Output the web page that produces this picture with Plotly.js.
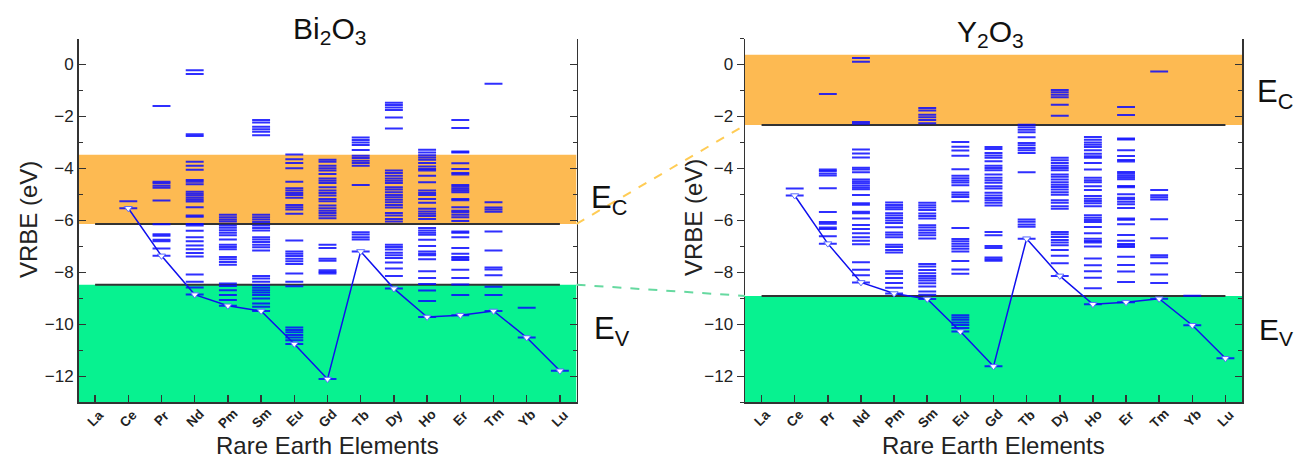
<!DOCTYPE html>
<html>
<head>
<meta charset="utf-8">
<script src="https://cdn.plot.ly/plotly-3.0.1.min.js"></script>
<style>html,body{margin:0;padding:0;background:#fff;}#chart{width:1294px;height:458px;}</style>
</head>
<body>
<div id="chart"></div>
<script>
// ---------------- DATA ----------------
const elements = ['La','Ce','Pr','Nd','Pm','Sm','Eu','Gd','Tb','Dy','Ho','Er','Tm','Yb','Lu'];

// 4f ground-state energies (VRBE, eV) of the trivalent lanthanides
const groundBi2O3 = [null, -5.53, -7.36, -8.85, -9.28, -9.48, -10.75, -12.10, -7.19, -8.62, -9.71, -9.64, -9.48, -10.50, -11.78];
const groundY2O3  = [null, -5.04, -6.89, -8.38, -8.81, -9.02, -10.27, -11.61, -6.70, -8.13, -9.22, -9.14, -9.01, -10.03, -11.30];

// excited 4f levels, energy above the ground state (eV)
const levelsLa = [];
const levelsCe = [0.27];
const levelsPr = [0.28, 0.56, 0.62, 0.77, 0.83, 1.22, 2.13, 2.62, 2.70, 2.79, 2.85, 5.76];
const levelsNd = [0.27, 0.49, 0.77, 1.47, 1.60, 1.74, 1.89, 2.05, 2.21, 2.46, 2.66, 2.72, 2.99, 3.04, 3.36, 3.58, 3.65, 3.73, 3.81, 3.88, 3.96, 4.24, 4.34, 4.41, 4.80, 4.96, 5.11, 6.10, 6.17, 8.49, 8.63];
const levelsPm = [0.22, 0.41, 0.60, 0.76, 0.86, 1.58, 1.68, 1.79, 1.88, 2.17, 2.26, 2.35, 2.55, 2.71, 2.81, 2.91, 3.00, 3.09, 3.24, 3.32, 3.41, 3.50];
const levelsSm = [0.16, 0.29, 0.48, 0.61, 0.71, 0.80, 0.89, 0.99, 1.12, 1.25, 1.35, 2.33, 2.45, 2.55, 2.65, 2.75, 2.84, 3.10, 3.19, 3.29, 3.42, 3.52, 3.61, 3.70, 6.76, 6.89, 6.99, 7.09, 7.25, 7.35];
const levelsEu = [0.14, 0.25, 0.35, 0.45, 0.54, 0.63, 2.22, 2.39, 2.71, 3.08, 3.18, 3.28, 3.38, 3.47, 3.56, 3.98, 5.01, 5.17, 5.26, 5.35, 5.63, 5.73, 5.81, 5.90, 5.99, 6.24, 6.76, 6.96, 7.11, 7.29];
const levelsGd = [4.06, 4.12, 4.19, 4.55, 4.63, 5.04, 5.17, 6.19, 6.29, 6.39, 6.48, 6.57, 6.68, 6.84, 6.93, 7.06, 7.16, 7.25, 7.38, 7.54, 7.63, 7.72, 7.89, 8.02, 8.11, 8.21, 8.36, 8.44];
const levelsTb = [0.46, 0.55, 0.65, 0.74, 2.56, 3.30, 3.40, 3.49, 3.59, 3.68, 3.90, 4.09, 4.19, 4.29, 4.38];
const levelsDy = [0.49, 0.77, 1.00, 1.18, 1.28, 1.38, 1.50, 1.60, 1.69, 2.58, 2.68, 2.81, 2.91, 3.12, 3.22, 3.32, 3.42, 3.51, 3.60, 3.71, 3.81, 3.90, 4.06, 4.15, 4.24, 4.34, 4.45, 4.54, 6.16, 6.58, 6.87, 6.97, 7.06, 7.15];
const levelsHo = [0.61, 1.02, 1.27, 1.50, 1.76, 2.22, 2.37, 2.43, 2.52, 2.73, 2.97, 3.16, 3.24, 3.33, 3.42, 3.77, 3.88, 3.97, 4.06, 4.16, 4.39, 4.54, 4.69, 4.77, 4.86, 5.18, 5.43, 5.63, 5.69, 5.79, 5.92, 6.05, 6.13, 6.22, 6.33, 6.43];
const levelsEr = [0.77, 1.18, 1.43, 1.75, 2.12, 2.18, 2.24, 2.36, 2.58, 3.00, 3.17, 3.22, 3.62, 3.77, 3.86, 3.96, 4.02, 4.15, 4.42, 4.47, 4.73, 4.79, 4.86, 4.94, 5.01, 5.41, 5.47, 5.62, 5.84, 6.26, 6.29, 7.20, 7.51];
const levelsTm = [0.61, 0.93, 1.37, 1.60, 1.67, 2.33, 3.06, 3.82, 3.90, 3.98, 4.18, 8.74];
const levelsYb = [1.14];
const levelsLu = [];
const excitedLevels = [levelsLa, levelsCe, levelsPr, levelsNd, levelsPm, levelsSm, levelsEu, levelsGd, levelsTb, levelsDy, levelsHo, levelsEr, levelsTm, levelsYb, levelsLu];

// band edges (VRBE, eV)
const bandBi2O3 = {cbTop: -3.47, ec: -6.13, ev: -8.47};
const bandY2O3  = {cbTop: 0.38, ec: -2.33, ev: -8.90};

const yTickVals = [0, -2, -4, -6, -8, -10, -12];
const yMinorVals = [1, -1, -3, -5, -7, -9, -11, -13];
// ---------------------------------------------------------------

const xIdx = elements.map((e, i) => i + 1);
const half = 0.27;

function levelTrace(ground, xa, ya) {
  const xs = [], ys = [];
  ground.forEach((g, i) => {
    if (g === null) return;
    const all = [0].concat(excitedLevels[i]);
    all.forEach(off => {
      xs.push(xIdx[i] - half, xIdx[i] + half, null);
      ys.push(g + off, g + off, null);
    });
  });
  return {x: xs, y: ys, xaxis: xa, yaxis: ya, mode: 'lines', type: 'scatter',
          line: {color: 'rgba(10,10,255,0.85)', width: 2}, hoverinfo: 'skip', showlegend: false};
}
function groundTrace(ground, xa, ya) {
  const xs = [], ys = [];
  ground.forEach((g, i) => { if (g !== null) { xs.push(xIdx[i]); ys.push(g); } });
  return {x: xs, y: ys, xaxis: xa, yaxis: ya, mode: 'lines+markers', type: 'scatter',
          line: {color: '#1010ee', width: 1.5},
          marker: {symbol: 'triangle-down', size: 7, color: '#ffffff', line: {color: '#5a6cff', width: 1}},
          showlegend: false};
}

const data = [
  levelTrace(groundBi2O3, 'x', 'y'), groundTrace(groundBi2O3, 'x', 'y'),
  levelTrace(groundY2O3, 'x2', 'y2'), groundTrace(groundY2O3, 'x2', 'y2')
];

const font = 'Arial, "Liberation Sans", sans-serif';
const yDom = [0.1212, 0.9159];
function xAxis(dom, anchor) {
  return {domain: dom, anchor: anchor, range: [0.5, 15.5], tickmode: 'array', tickvals: xIdx, ticktext: elements,
          showticklabels: false,
          ticks: 'inside', ticklen: 7, tickwidth: 1.5, tickcolor: '#333',
          showline: true, linecolor: '#333', linewidth: 1.5, showgrid: false, zeroline: false};
}
function yAxis(anchor, tickDir) {
  return {domain: yDom, anchor: anchor, range: [-13, 1], tickmode: 'array', tickvals: yTickVals,
          ticks: tickDir, ticklen: 7, tickwidth: 1.5, tickcolor: '#333',
          minor: {tickvals: yMinorVals, ticks: tickDir, ticklen: 4, tickwidth: 1.5, tickcolor: '#333'},
          tickfont: {family: font, size: 17, color: '#222'},
          showline: true, linecolor: '#333', linewidth: 1.5, showgrid: false, zeroline: false};
}
function yMirror(over, anchor) {
  return {domain: yDom, overlaying: over, anchor: anchor, side: 'right', range: [-13, 1], tickmode: 'array', tickvals: yTickVals,
          ticks: 'inside', ticklen: 7, tickwidth: 1.5, tickcolor: '#333', showticklabels: false,
          minor: {tickvals: yMinorVals, ticks: 'inside', ticklen: 4, tickwidth: 1.5, tickcolor: '#333'},
          showline: true, linecolor: '#333', linewidth: 1.5, showgrid: false, zeroline: false};
}

const orange = '#FDBA52', green = '#07F290';
function bandShapes(b, xr, yr) {
  return [
    {type: 'rect', xref: xr, yref: yr, x0: 0.5, x1: 15.5, y0: b.ec, y1: b.cbTop, fillcolor: orange, line: {width: 0}, layer: 'below'},
    {type: 'rect', xref: xr, yref: yr, x0: 0.5, x1: 15.5, y0: -13, y1: b.ev, fillcolor: green, line: {width: 0}, layer: 'below'},
    {type: 'line', xref: xr, yref: yr, x0: 1, x1: 15, y0: b.ec, y1: b.ec, line: {color: '#333', width: 2}, layer: 'below'},
    {type: 'line', xref: xr, yref: yr, x0: 1, x1: 15, y0: b.ev, y1: b.ev, line: {color: '#333', width: 2}, layer: 'below'}
  ];
}
const xDomL = [78.5/1294, 576.5/1294], xDomR = [745/1294, 1242/1294];
const shapes = bandShapes(bandBi2O3, 'x', 'y').concat(bandShapes(bandY2O3, 'x2', 'y2')).concat([
  {type: 'line', xref: 'paper', yref: 'y', x0: xDomL[1], x1: xDomR[0], y0: bandBi2O3.ec, y1: bandY2O3.ec,
   line: {color: '#FFCC55', width: 2, dash: 'dash'}},
  {type: 'line', xref: 'paper', yref: 'y', x0: xDomL[1], x1: xDomR[0], y0: bandBi2O3.ev, y1: bandY2O3.ev,
   line: {color: '#66D9A0', width: 2, dash: 'dash'}}
]);

function lab(text, x, y, size) {
  return {text: text, xref: 'paper', yref: 'paper', x: x, y: y, xanchor: 'left', yanchor: 'middle',
          showarrow: false, font: {family: font, size: size, color: '#111'}};
}
function ytitle(x, y) {
  return {text: 'VRBE (eV)', xref: 'paper', yref: 'paper', x: x, y: y, xanchor: 'center', yanchor: 'middle',
          textangle: -90, showarrow: false, font: {family: font, size: 24, color: '#222'}};
}
function xtitle(xr) {
  return {text: 'Rare Earth Elements', xref: xr + ' domain', yref: 'paper', x: 0.5, y: (458-445)/458,
          xanchor: 'center', yanchor: 'middle', showarrow: false, font: {family: font, size: 24, color: '#222'}};
}
function tickLabels(xr) {
  return elements.map((e, i) => ({text: '<b>' + e + '</b>', xref: xr, yref: 'paper', x: xIdx[i],
          y: (458-418)/458, xanchor: 'center', yanchor: 'middle', textangle: -45, showarrow: false,
          font: {family: font, size: 13.5, color: '#222'}}));
}
const annotations = [
  {text: 'Bi<sub>2</sub>O<sub>3</sub>', xref: 'paper', yref: 'paper', x: 330/1294, y: (458-31)/458, xanchor: 'center', yanchor: 'middle', showarrow: false, font: {family: font, size: 30, color: '#111'}},
  {text: 'Y<sub>2</sub>O<sub>3</sub>', xref: 'paper', yref: 'paper', x: 990/1294, y: (458-34)/458, xanchor: 'center', yanchor: 'middle', showarrow: false, font: {family: font, size: 30, color: '#111'}},
  lab('E<sub>C</sub>', 589/1294, (458-200)/458, 31),
  lab('E<sub>V</sub>', 592/1294, (458-331)/458, 31),
  lab('E<sub>C</sub>', 1255/1294, (458-94)/458, 31),
  lab('E<sub>V</sub>', 1257/1294, (458-331)/458, 30),
  ytitle(28/1294, (458-220)/458),
  ytitle(693/1294, (458-218)/458),
  xtitle('x'), xtitle('x2')
].concat(tickLabels('x'), tickLabels('x2'));

const layout = {
  width: 1294, height: 458, margin: {l: 0, r: 0, t: 0, b: 0},
  paper_bgcolor: '#fff', plot_bgcolor: 'rgba(0,0,0,0)', showlegend: false,
  xaxis: xAxis(xDomL, 'y'),
  yaxis: yAxis('x', 'inside'),
  xaxis2: xAxis(xDomR, 'y2'),
  yaxis2: yAxis('x2', 'outside'),
  yaxis3: yMirror('y', 'x'),
  yaxis4: yMirror('y2', 'x2'),
  shapes: shapes, annotations: annotations
};
// invisible traces so the mirrored right-hand axes are drawn
data.push({x: [1], y: [0], xaxis: 'x', yaxis: 'y3', mode: 'markers', marker: {opacity: 0}, hoverinfo: 'skip', showlegend: false});
data.push({x: [1], y: [0], xaxis: 'x2', yaxis: 'y4', mode: 'markers', marker: {opacity: 0}, hoverinfo: 'skip', showlegend: false});

Plotly.newPlot('chart', data, layout, {displayModeBar: false, staticPlot: true});
</script>
</body>
</html>
